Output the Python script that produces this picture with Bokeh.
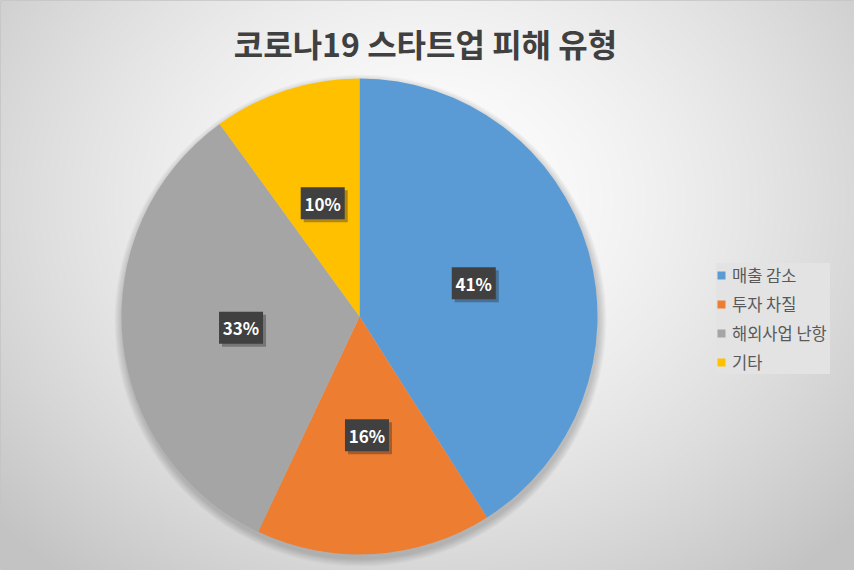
import numpy as np
from bokeh.plotting import figure
from bokeh.models import ColumnDataSource, Range1d
from bokeh.core.properties import value
from bokeh.embed import file_html
from bokeh.resources import INLINE

# ---- data ----
categories = ["매출 감소", "투자 차질", "해외사업 난항", "기타"]
percents = [41, 16, 33, 10]
colors = ["#5B9BD5", "#ED7D31", "#A5A5A5", "#FFC000"]
title_text = "코로나19 스타트업 피해 유형"

W, H = 854, 570
def py(y):  # image y -> data y
    return H - y

p = figure(width=W, height=H, output_backend="svg", toolbar_location=None,
           x_range=Range1d(0, W), y_range=Range1d(0, H), min_border=0)
p.axis.visible = False
p.grid.visible = False
p.outline_line_color = "#c4c4c4"
p.background_fill_color = "#e8e8e8"
p.border_fill_color = "#ffffff"

# background radial gradient (style)
xs = np.arange(W) + 0.5
ys = np.arange(H) + 0.5
X, Y = np.meshgrid(xs, ys)
PY = H - Y
d = np.sqrt(((X - 427) / 427.0) ** 2 + ((PY - 200) / 360.0) ** 2)
g = np.clip(255 - 38 * d ** 1.5, 195, 255).astype(np.uint32)
img = (255 << 24) | (g << 16) | (g << 8) | g
p.image_rgba(image=[img.astype(np.uint32)], x=0, y=0, dw=W, dh=H)

# pie geometry
cx, cy, r = 359, py(316), 238
fr = np.array(percents, dtype=float) / sum(percents)
cum = np.concatenate([[0], np.cumsum(fr)])
start = np.pi / 2 - 2 * np.pi * cum[:-1]
end = np.pi / 2 - 2 * np.pi * cum[1:]
mid = (start + end) / 2

# soft shadow
for k in range(1, 9):
    p.circle(x=cx + 1, y=cy - 4, radius=r + k, fill_color="black",
             fill_alpha=0.025, line_color=None)

src = ColumnDataSource(dict(category=categories, start=start, end=end, color=colors))
p.wedge(x=cx, y=cy, radius=r, start_angle="start", end_angle="end",
        direction="clock", fill_color="color", line_color=None,
        legend_field="category", source=src)

# data labels
lr = 0.5 * r
lx = cx + lr * np.cos(mid)
ly = cy + lr * np.sin(mid)
labels = [f"{v}%" for v in percents]
lsrc = ColumnDataSource(dict(x=lx, y=ly, sx=lx + 3, sy=ly - 3, text=labels))
p.rect(x="sx", y="sy", width=44, height=32, fill_color="#202020", fill_alpha=0.35,
       line_color=None, source=lsrc)
p.rect(x="x", y="y", width=44, height=32, fill_color="#404040",
       line_color=None, source=lsrc)
p.text(x="x", y="y", text="text", text_color="white", text_font=value("Noto Sans CJK KR"),
       text_font_style="bold", text_font_size="17px", text_align="center",
       text_baseline="middle", source=lsrc)

# title
p.text(x=[425], y=[py(42)], text=[title_text], text_color="#404040",
       text_font=value("Noto Sans CJK KR"), text_font_style="bold",
       text_font_size="32px", text_align="center", text_baseline="middle")

leg = p.legend[0]
leg.location = (716, 196)
leg.background_fill_color = "#e3e3e3"
leg.background_fill_alpha = 1.0
leg.border_line_color = None
leg.label_text_color = "#595959"
leg.label_text_font = "Noto Sans CJK KR"
leg.label_text_font_size = "16.5px"
leg.glyph_width = 10
leg.glyph_height = 10
leg.label_standoff = 6
leg.label_width = 98
leg.padding = 10
leg.spacing = 5
leg.label_height = 18
leg.margin = 0

open("out.html", "w").write(file_html(p, INLINE))
